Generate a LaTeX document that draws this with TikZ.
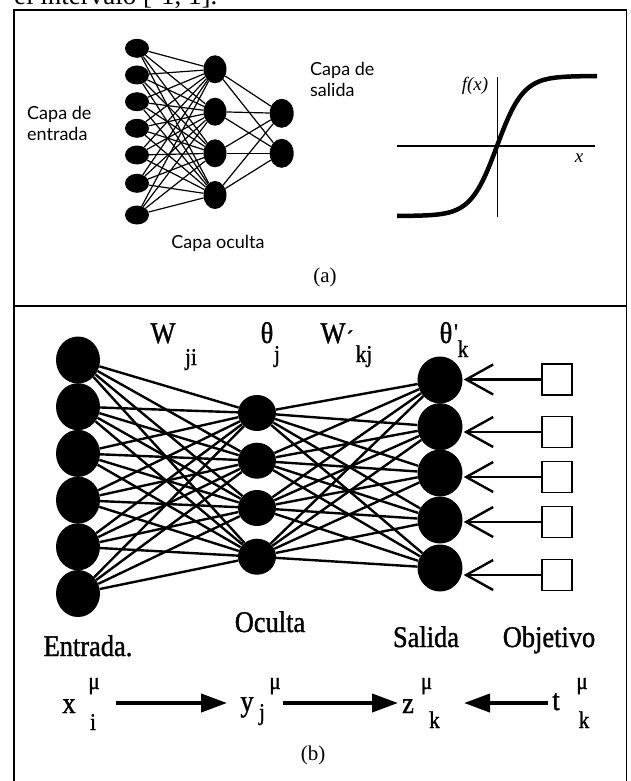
\documentclass[tikz,border=0pt]{standalone}
\usepackage{fontspec}
\setmainfont{Liberation Serif}
\newfontfamily\capfont{Lato}
\newfontfamily\bfont[FakeStretch=0.88,FakeBold=1.2]{Liberation Serif}
\usetikzlibrary{shapes.geometric,arrows.meta}
\newcommand{\fsz}[2]{\fontsize{#1}{#2}\selectfont}
\begin{document}
\begin{tikzpicture}[x=1pt,y=-1pt,
 ina/.style={ellipse,fill=black,inner sep=0pt,minimum width=24pt,minimum height=19pt},
 hida/.style={ellipse,fill=black,inner sep=0pt,minimum width=23pt,minimum height=28pt},
 outa/.style={ellipse,fill=black,inner sep=0pt,minimum width=24pt,minimum height=29pt},
 lina/.style={line width=1.2pt},
 inb/.style={ellipse,fill=black,inner sep=0pt,minimum width=44pt,minimum height=47pt},
 hidb/.style={ellipse,fill=black,inner sep=0pt,minimum width=38pt,minimum height=36pt},
 outb/.style={ellipse,fill=black,inner sep=0pt,minimum width=45pt,minimum height=47pt},
 linb/.style={line width=2.4pt},
 sqbox/.style={draw,line width=1.8pt,minimum width=30pt,minimum height=31pt,inner sep=0pt},
 capt/.style={font=\capfont\fsz{18}{21},align=left,inner sep=0pt,anchor=west},
 bl/.style={font=\bfont\fsz{30}{30},inner sep=0pt,anchor=base},
 blm/.style={font=\bfont\fsz{30}{30},inner sep=0pt,anchor=base},
 sub/.style={font=\bfont\fsz{24}{24},inner sep=0pt,anchor=base},
 openarr/.style={line width=2.4pt,-{Straight Barb[length=27pt,width=30pt]},shorten >=1pt},
 fillarr/.style={line width=4pt,-{Triangle[length=26pt,width=18pt]}},
 frameline/.style={line width=1.4pt}
]
\useasboundingbox (0,0) rectangle (630,781);
\clip (0,0) rectangle (630,781);

% cut-off text at the top
\node[font=\fsz{27}{27},anchor=base west,inner sep=0pt] (toptext) at (14,5) {el intervalo [-1, 1].};

% frame
\draw[frameline] (14,795) -- (14,10) -- (626.5,10) -- (626.5,795);
\draw[frameline] (14,306) -- (626.5,306);

% ---------- (a) network ----------
\foreach \yy [count=\i] in {48.3,75,101.7,128.3,155,183.3,215}
  \node[ina] (ia\i) at (137,\yy) {};
\foreach \yy [count=\i] in {69.3,111.7,153.3,195}
  \node[hida] (ha\i) at (215,\yy) {};
\foreach \yy [count=\i] in {113.3,153.3}
  \node[outa] (oa\i) at (281.7,\yy) {};
\foreach \i in {1,...,7}
  \foreach \j in {1,...,4}
    \draw[lina] (ia\i) -- (ha\j);
\foreach \j in {1,...,4}
  \foreach \k in {1,2}
    \draw[lina] (ha\j) -- (oa\k);

\node[capt] (capin) at (27,123.5) {Capa de\\entrada};
\node[capt] (capout) at (310,79.5) {Capa de\\salida};
\node[font=\capfont\fsz{18}{21},inner sep=0pt] (caphid) at (218,243) {Capa oculta};

% ---------- (a) sigmoid ----------
\draw[line width=1.3pt] (397,146) -- (595,146);
\draw[line width=1pt] (497,77) -- (497,217);
\draw[line width=4.5pt] plot[domain=397:597,samples=160,smooth] (\x,{146-70*tanh(0.038*(\x-497))});
\node[font=\itshape\fsz{19}{19},inner sep=0pt] (fx) at (475,86) {f(x)};
\node[font=\itshape\fsz{19}{19},inner sep=0pt] (xax) at (579,158) {x};

\node[font=\fsz{21}{21},inner sep=0pt] (capa) at (325,277) {(a)};

% ---------- (b) network ----------
\foreach \yy [count=\i] in {360,406.7,453.4,500.1,546.8,593.5}
  \node[inb] (ib\i) at (78,\yy) {};
\foreach \yy [count=\i] in {413,460.7,508,556.7}
  \node[hidb] (hb\i) at (257,\yy) {};
\foreach \yy [count=\i] in {380,426.7,473,520,568}
  \node[outb] (ob\i) at (440,\yy) {};
\foreach \yy [count=\i] in {379.5,432,477,522,575}
  \node[sqbox] (sq\i) at (557,\yy) {};
\foreach \i in {1,...,6}
  \foreach \j in {1,...,4}
    \draw[linb] (ib\i) -- (hb\j);
\foreach \j in {1,...,4}
  \foreach \k in {1,...,5}
    \draw[linb] (hb\j) -- (ob\k);
\foreach \k in {1,...,5}
  \draw[openarr] (sq\k.west) -- (sq\k.west -| ob\k.east);

% weight labels
\node[bl] (W1) at (163,343) {W};
\node[sub] (ji) at (191,365) {ji};
\node[blm] (th1) at (267,343) {θ};
\node[sub] (j1) at (277,362) {j};
\node[bl] (W2) at (333,343) {W};
\node[sub] (acc) at (350,347) {´};
\node[sub] (kj) at (364,362) {kj};
\node[blm] (th2) at (446,343) {θ};
\node[sub] (pr) at (456,340) {'};
\node[sub] (k2) at (463,357) {k};

% layer labels
\node[bl] (entr) at (88,656) {Entrada.};
\node[bl] (ocul) at (270,632) {Oculta};
\node[bl] (sali) at (426,647) {Salida};
\node[bl] (obje) at (549,647) {Objetivo};

% signal labels
\node[blm] (xb) at (69,713) {x};
\node[sub] (xmu) at (94,689) {μ};
\node[sub] (xi) at (93,730) {i};
\node[blm] (yb) at (247,711) {y};
\node[sub] (yj) at (262,720) {j};
\node[sub] (ymu) at (275,689) {μ};
\node[blm] (zb) at (408,713) {z};
\node[sub] (zmu) at (426.5,689) {μ};
\node[sub] (zk) at (434.5,728) {k};
\node[blm] (tb) at (556,710) {t};
\node[sub] (tmu) at (582,689) {μ};
\node[sub] (tk) at (584,728) {k};

\coordinate (a1s) at (116,703);
\coordinate (a1e) at (227,703);
\coordinate (a2s) at (283,703);
\coordinate (a2e) at (398,703);
\coordinate (a3s) at (548,703);
\coordinate (a3e) at (464,703);
\draw[fillarr] (a1s) -- (a1e);
\draw[fillarr] (a2s) -- (a2e);
\draw[fillarr] (a3s) -- (a3e);

\node[font=\fsz{21}{21},inner sep=0pt] (capb) at (313,755) {(b)};
\end{tikzpicture}
\end{document}
